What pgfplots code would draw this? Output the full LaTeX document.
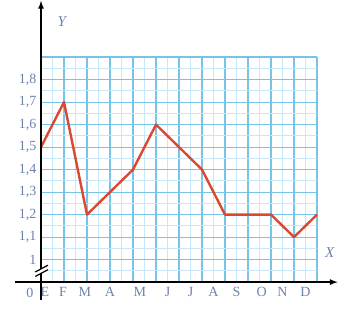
\documentclass[border=0pt]{standalone}
\usepackage{pgfplots}
\pgfplotsset{compat=1.18}
\usepackage{fontspec}
\setmainfont{Liberation Serif}
\definecolor{gridmaj}{RGB}{120,195,232}
\definecolor{gridmin}{RGB}{200,232,248}
\definecolor{lbl}{RGB}{110,130,172}
\definecolor{redline}{RGB}{218,72,50}
\begin{document}
\begin{tikzpicture}[x=1pt,y=1pt]
\begin{axis}[
  at={(0,0)}, anchor=south west,
  scale only axis, width=276pt, height=225pt,
  xmin=0, xmax=12, ymin=0.9, ymax=1.9,
  axis line style={draw=none},
  clip=false,
  xtick={0,1,...,12}, xticklabels={},
  minor x tick num=1,
  ytick={0.9,1.0,1.1,1.2,1.3,1.4,1.5,1.6,1.7,1.8,1.9},
  yticklabels={{},{1},{1,1},{1,2},{1,3},{1,4},{1,5},{1,6},{1,7},{1,8},{}},
  minor y tick num=1,
  major tick length=0pt, minor tick length=0pt,
  grid=both,
  major grid style={draw=gridmaj, line width=1.2pt},
  minor grid style={draw=gridmin, line width=0.8pt},
  yticklabel style={font=\fontsize{14}{14}\selectfont, text=lbl, xshift=-1pt},
  extra x ticks={0.17,0.96,1.91,3.0,4.3,5.5,6.5,7.5,8.5,9.6,10.5,11.5},
  extra x tick labels={E,F,M,A,M,J,J,A,S,O,N,D},
  extra x tick style={grid=none, major tick length=0pt,
    xticklabel style={font=\fontsize{14}{14}\selectfont, text=lbl, yshift=-2pt}},
]
\addplot[draw=redline, line width=2.4pt, line join=round] coordinates {
 (0,1.5) (1,1.7) (2,1.2) (3,1.3) (4,1.4) (5,1.6) (6,1.5) (7,1.4)
 (8,1.2) (9,1.2) (10,1.2) (11,1.1) (12,1.2)};
% axes
\draw[line width=1.7pt, -latex] (axis cs:-1.13,0.9) -- (axis cs:12.9,0.9);
\draw[line width=1.7pt, -latex] (axis cs:0,0.82) -- (axis cs:0,2.15);
% axis break
\fill[white] (axis cs:-0.25,0.945) -- (axis cs:0.3,0.975) -- (axis cs:0.3,0.955) -- (axis cs:-0.25,0.925) -- cycle;
\draw[line width=1.2pt] (axis cs:-0.25,0.945) -- (axis cs:0.3,0.975);
\draw[line width=1.2pt] (axis cs:-0.25,0.925) -- (axis cs:0.3,0.955);
\node[text=lbl, font=\fontsize{14}{14}\selectfont, anchor=base] at ([yshift=-15pt]axis cs:-0.48,0.9) {0};
\node[text=lbl, font=\fontsize{15}{15}\selectfont\itshape] at (axis cs:0.9,2.06) {Y};
\node[text=lbl, font=\fontsize{15}{15}\selectfont\itshape] at (axis cs:12.55,1.03) {X};
\end{axis}
\path[use as bounding box] (-41,-26.5) rectangle (302,272.5);
\end{tikzpicture}
\end{document}
